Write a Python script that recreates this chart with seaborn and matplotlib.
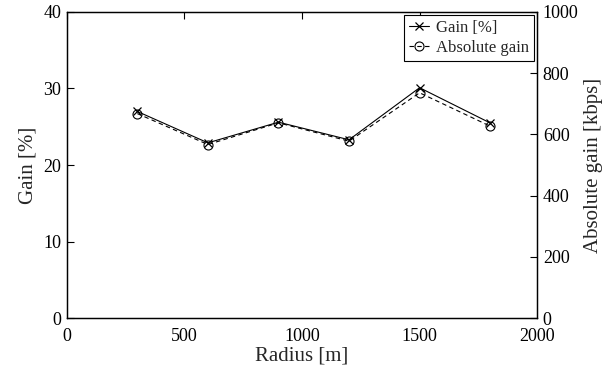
import matplotlib
matplotlib.use("Agg")
import matplotlib.pyplot as plt
import seaborn as sns
import pandas as pd

radius = [300, 600, 900, 1200, 1500, 1800]
gain_pct = [27.0, 22.9, 25.6, 23.3, 30.1, 25.5]
abs_gain = [668, 567, 638, 578, 736, 627]

sns.set_style("white")
plt.rcParams['font.family'] = ['Liberation Serif', 'DejaVu Serif']

df = pd.DataFrame({"radius": radius, "gain": gain_pct, "abs": abs_gain})

fig = plt.figure(figsize=(6.07, 3.73), dpi=100)
ax = fig.add_axes([0.110, 0.147, 0.775, 0.821])
ax2 = ax.twinx()

sns.lineplot(data=df, x="radius", y="gain", ax=ax, color="black", linewidth=0.8,
             marker="x", markersize=6, markeredgewidth=0.9, markeredgecolor="black",
             label="Gain [%]", legend=False)
sns.lineplot(data=df, x="radius", y="abs", ax=ax2, color="black", linewidth=0.8,
             linestyle=(0, (4, 3)), marker="o", markersize=6.5, markerfacecolor="none",
             markeredgecolor="black", markeredgewidth=0.8, label="Absolute gain", legend=False)

ax.set_xlim(0, 2000)
ax.set_ylim(0, 40)
ax2.set_ylim(0, 1000)
ax.set_xticks([0, 500, 1000, 1500, 2000])
ax.set_yticks([0, 10, 20, 30, 40])
ax2.set_yticks([0, 200, 400, 600, 800, 1000])

ax.set_xlabel("Radius [m]", fontsize=15, labelpad=1)
ax.set_ylabel("Gain [%]", fontsize=15, labelpad=4)
ax2.set_ylabel("Absolute gain [kbps]", fontsize=15, labelpad=4)

for a in (ax, ax2):
    for s in a.spines.values():
        s.set_color("black")
        s.set_linewidth(0.9)
ax.tick_params(axis="x", direction="in", length=5, width=0.8, labelsize=13, top=True, pad=7, colors="black")
ax.tick_params(axis="y", direction="in", length=5, width=0.8, labelsize=13, right=False, pad=4, colors="black")
ax2.tick_params(axis="y", direction="in", length=5, width=0.8, labelsize=13, left=False, pad=4, colors="black")

h1, l1 = ax.get_legend_handles_labels()
h2, l2 = ax2.get_legend_handles_labels()
leg = ax2.legend(h1 + h2, l1 + l2, loc="upper right", fontsize=12, frameon=True,
                 fancybox=False, edgecolor="black", handlelength=1.2, handletextpad=0.4,
                 borderpad=0.3, labelspacing=0.2, borderaxespad=0.2, framealpha=1)
leg.get_frame().set_linewidth(0.8)

fig.savefig("out.png", dpi=100)
